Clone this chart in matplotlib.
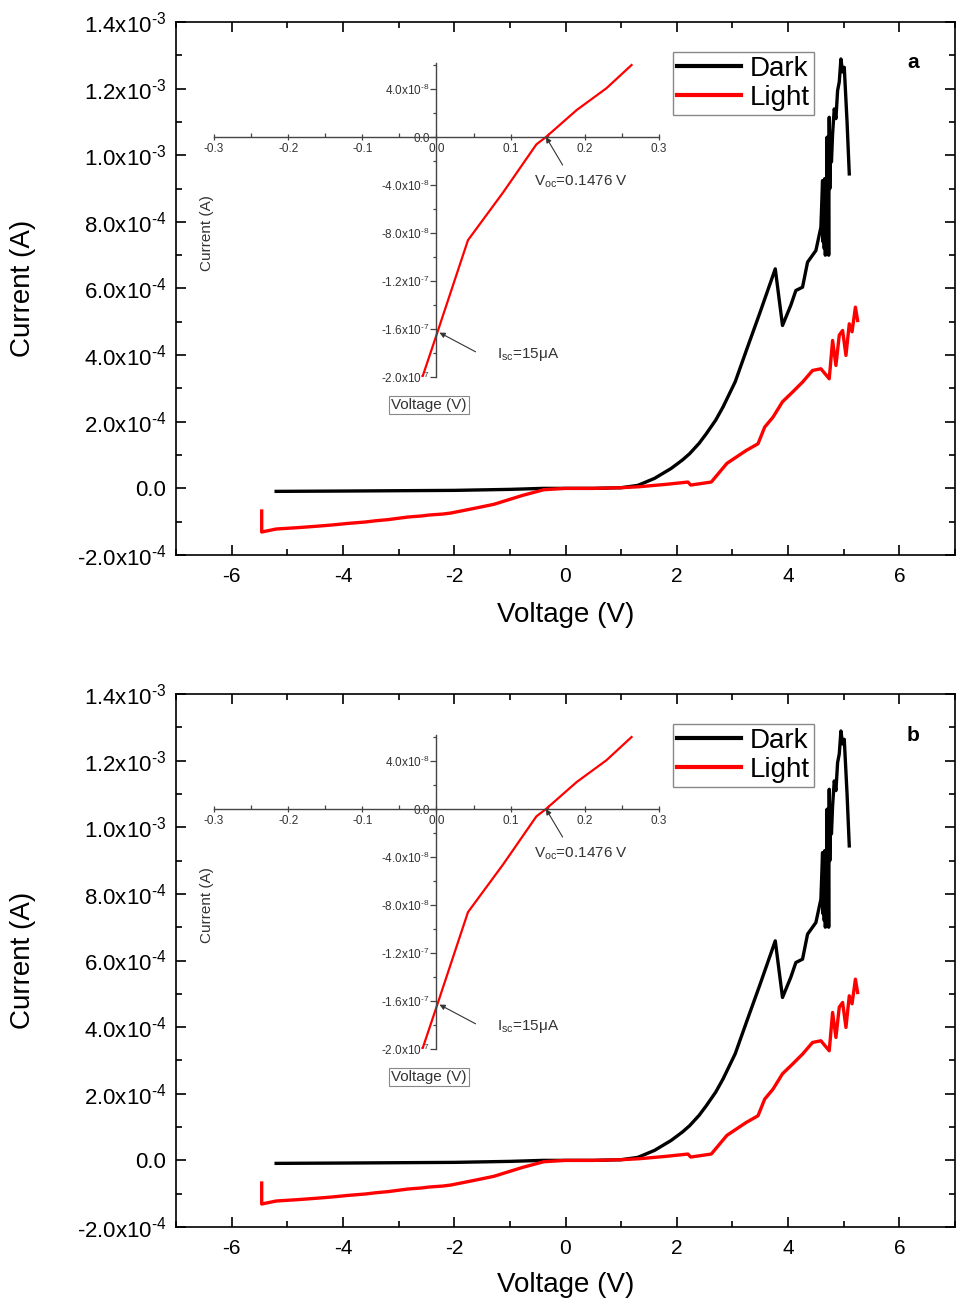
import matplotlib
matplotlib.use("Agg")
import matplotlib.pyplot as plt
from matplotlib.ticker import MultipleLocator

plt.rcParams["font.family"] = ["Liberation Sans", "DejaVu Sans"]
plt.rcParams["mathtext.fontset"] = "custom"
plt.rcParams["mathtext.rm"] = "Liberation Sans"
plt.rcParams["mathtext.it"] = "Liberation Sans:italic"
plt.rcParams["mathtext.default"] = "regular"

# main I-V data (V, A x 1e-4)
dark_v = [-5.2, -4.0, -2.0, -1.0, -0.4, 0.5, 1.0, 1.3, 1.6, 1.9, 2.1, 2.23, 2.4, 2.53, 2.7,
          2.83, 3.05, 3.25, 3.5, 3.77, 3.90, 4.05, 4.14, 4.26, 4.35, 4.50, 4.59, 4.62,
          4.63, 4.64, 4.65, 4.66, 4.67, 4.68, 4.69, 4.70, 4.71, 4.72, 4.73, 4.74, 4.75,
          4.76, 4.78, 4.80, 4.83, 4.86, 4.89, 4.92, 4.95, 4.98, 5.01, 5.06, 5.10]
dark_i = [-0.09, -0.08, -0.06, -0.03, 0.0, 0.0, 0.02, 0.09, 0.3, 0.6, 0.85, 1.04, 1.35, 1.64,
          2.05, 2.44, 3.2, 4.14, 5.3, 6.59, 4.89, 5.5, 5.94, 6.04, 6.79, 7.14, 7.84, 9.24,
          7.4, 9.0, 7.2, 9.3, 7.0, 8.8, 7.1, 10.54, 7.05, 9.6, 7.0, 11.14, 9.0,
          10.2, 9.8, 10.64, 11.39, 11.1, 11.94, 12.2, 12.89, 12.5, 12.64, 11.0, 9.44]

light_v = [-5.46, -5.46, -5.2, -4.82, -4.5, -4.2, -3.9, -3.6, -3.4, -3.2, -2.83, -2.6,
           -2.45, -2.2, -2.06, -1.7, -1.29, -0.77, -0.39, 0.0, 0.5, 1.0, 1.33, 1.8, 2.2,
           2.25, 2.62, 2.77, 2.9, 3.07, 3.25, 3.46, 3.58, 3.73, 3.9, 4.08, 4.26, 4.44,
           4.59, 4.74, 4.80, 4.86, 4.92, 4.98, 5.04, 5.10, 5.15, 5.21, 5.25]
light_i = [-0.68, -1.31, -1.22, -1.18, -1.14, -1.10, -1.05, -1.01, -0.97, -0.94, -0.86, -0.83,
           -0.80, -0.77, -0.74, -0.62, -0.48, -0.21, -0.04, 0.0, 0.0, 0.02, 0.05, 0.12, 0.19,
           0.10, 0.19, 0.49, 0.75, 0.94, 1.14, 1.34, 1.84, 2.14, 2.6, 2.89, 3.19, 3.54,
           3.59, 3.29, 4.44, 3.69, 4.6, 4.74, 3.99, 4.94, 4.7, 5.44, 5.04]

# inset data (V, A)
inset_v = [-0.019, 0.0, 0.0424, 0.09, 0.1347, 0.1476, 0.189, 0.229, 0.263]
inset_i = [-2.0e-7, -1.65e-7, -8.6e-8, -4.6e-8, -6.1e-9, 0.0, 2.25e-8, 4.06e-8, 6.0e-8]

y_ticks = [-2e-4, 0, 2e-4, 4e-4, 6e-4, 8e-4, 1e-3, 1.2e-3, 1.4e-3]
y_labels = [r"-2.0x10$^{\text{-4}}$", "0.0", r"2.0x10$^{\text{-4}}$", r"4.0x10$^{\text{-4}}$",
            r"6.0x10$^{\text{-4}}$", r"8.0x10$^{\text{-4}}$", r"1.0x10$^{\text{-3}}$",
            r"1.2x10$^{\text{-3}}$", r"1.4x10$^{\text{-3}}$"]
inset_y_ticks = [-2e-7, -1.6e-7, -1.2e-7, -8e-8, -4e-8, 0, 4e-8]
inset_y_labels = [r"-2.0x10$^{\text{-7}}$", r"-1.6x10$^{\text{-7}}$", r"-1.2x10$^{\text{-7}}$",
                  r"-8.0x10$^{\text{-8}}$", r"-4.0x10$^{\text{-8}}$", "0.0",
                  r"4.0x10$^{\text{-8}}$"]
inset_x_ticks = [-0.3, -0.2, -0.1, 0.0, 0.1, 0.2, 0.3]

W, H = 959, 1303
fig = plt.figure(figsize=(W / 100, H / 100), dpi=100)
GREY = "#333333"


def draw_panel(dy, letter, xlabel_y):
    ax = fig.add_axes([176 / W, 1 - (555 + dy) / H, 779 / W, 533 / H])
    ax.plot(dark_v, [v * 1e-4 for v in dark_i], color="black", lw=2.4, label="Dark")
    ax.plot(light_v, [v * 1e-4 for v in light_i], color="red", lw=2.4, label="Light")
    ax.set_xlim(-7, 7)
    ax.set_ylim(-2e-4, 1.4e-3)
    ax.set_xticks([-6, -4, -2, 0, 2, 4, 6])
    ax.set_xticklabels(["-6", "-4", "-2", "0", "2", "4", "6"])
    ax.xaxis.set_minor_locator(MultipleLocator(1))
    ax.set_yticks(y_ticks)
    ax.set_yticklabels(y_labels)
    ax.yaxis.set_minor_locator(MultipleLocator(1e-4))
    ax.tick_params(which="both", direction="in", top=True, right=True, width=1.2)
    ax.tick_params(which="major", length=7, labelsize=15)
    ax.tick_params(which="minor", length=4)
    ax.tick_params(axis="x", pad=9)
    ax.tick_params(axis="y", pad=7, labelsize=16)
    for s in ax.spines.values():
        s.set_linewidth(1.2)
    ax.set_xlabel("Voltage (V)", fontsize=20)
    ax.set_ylabel("Current (A)", fontsize=20)
    ax.xaxis.set_label_coords(0.5, xlabel_y)
    ax.yaxis.set_label_coords(-0.18, 0.5)
    leg = ax.legend(loc="upper left", bbox_to_anchor=(673 / W, 1 - (52 + dy) / H),
                    bbox_transform=fig.transFigure, borderaxespad=0, fontsize=20,
                    handlelength=2.3, handletextpad=0.3, borderpad=0.15, labelspacing=0.1,
                    fancybox=False, framealpha=1)
    leg.get_frame().set_edgecolor("#888888")
    leg.get_frame().set_linewidth(1.0)
    for line in leg.get_lines():
        line.set_linewidth(3)
    fig.text(913 / W, 1 - (63 + dy) / H, letter, fontsize=15, fontweight="bold",
             ha="center", va="center")

    # inset
    ai = fig.add_axes([214 / W, 1 - (377 + dy) / H, 445 / W, 314 / H])
    ai.patch.set_alpha(0)
    ai.plot(inset_v, inset_i, color="red", lw=1.6)
    ai.set_xlim(-0.3, 0.3)
    ai.set_ylim(-2.0e-7, 6.17e-8)
    for side in ("top", "right"):
        ai.spines[side].set_visible(False)
    ai.spines["left"].set_position(("data", 0))
    ai.spines["bottom"].set_position(("data", 0))
    for side in ("left", "bottom"):
        ai.spines[side].set_color("#444444")
        ai.spines[side].set_linewidth(1.0)
    ai.set_xticks(inset_x_ticks)
    ai.set_xticklabels(["-0.3", "-0.2", "-0.1", "0.0", "0.1", "0.2", "0.3"])
    ai.xaxis.set_minor_locator(MultipleLocator(0.05))
    ai.set_yticks(inset_y_ticks)
    ai.set_yticklabels(inset_y_labels)
    ai.yaxis.set_minor_locator(MultipleLocator(2e-8))
    ai.tick_params(which="both", colors="#444444", labelcolor=GREY, labelsize=8.5, width=0.9)
    ai.tick_params(axis="x", which="major", direction="inout", length=5, pad=2)
    ai.tick_params(axis="x", which="minor", direction="in", length=3)
    ai.tick_params(axis="y", which="major", direction="out", length=4, pad=1)
    ai.tick_params(axis="y", which="minor", direction="out", length=2.5)
    arrow = dict(arrowstyle="-|>", color=GREY, lw=0.8, mutation_scale=8, shrinkA=0, shrinkB=0)
    ai.annotate("", xy=(0.1476, 0.0), xytext=(0.170, -2.33e-8), arrowprops=arrow)
    ai.text(0.131, -3.75e-8, "V$_{oc}$=0.1476 V", fontsize=11, color=GREY, va="center")
    ai.annotate("", xy=(0.004, -1.63e-7), xytext=(0.0527, -1.79e-7), arrowprops=arrow)
    ai.text(0.081, -1.81e-7, "I$_{sc}$=15\u03bcA", fontsize=11, color=GREY, va="center")
    fig.text(207 / W, 1 - (233 + dy) / H, "Current (A)", rotation=90, fontsize=11,
             color=GREY, ha="center", va="center")
    fig.text(429 / W, 1 - (405 + dy) / H, "Voltage (V)", fontsize=11, color=GREY,
             ha="center", va="center",
             bbox=dict(boxstyle="square,pad=0.15", fc="white", ec="#888888", lw=0.8))


draw_panel(0, "a", -0.088)
draw_panel(672, "b", -0.084)

fig.savefig("out.png", dpi=100)
